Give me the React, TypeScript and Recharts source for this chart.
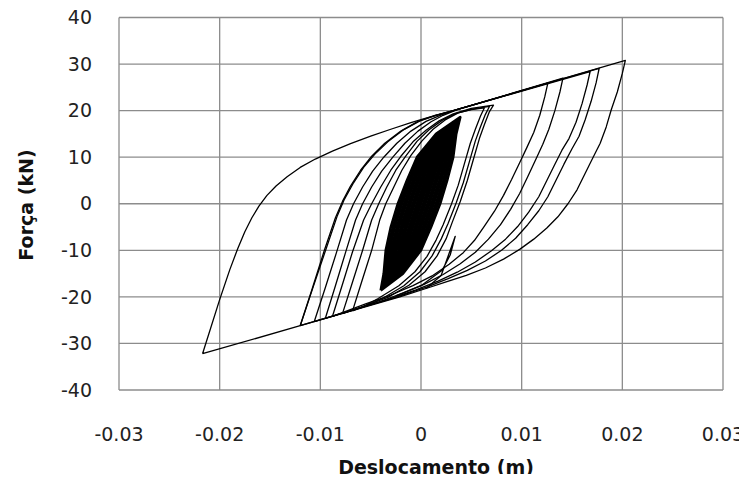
import React from "react";
import { LineChart, Line, XAxis, YAxis, CartesianGrid } from "recharts";

type Pt = [number, number];

const xTicks = [-0.03, -0.02, -0.01, 0, 0.01, 0.02, 0.03];
const yTicks = [-40, -30, -20, -10, 0, 10, 20, 30, 40];

// Largest cycle (peak +0.0203 m / 30.8 kN, valley -0.0217 m / -32.2 kN)
const cycle1: Pt[] = [
  [-0.0217, -32.2], [-0.02, -20.6], [-0.019, -14.2], [-0.0182, -9.6], [-0.0175, -6.0],
  [-0.0168, -3.0], [-0.0161, -0.5], [-0.0153, 1.8], [-0.0144, 3.8], [-0.0133, 5.8],
  [-0.012, 7.8], [-0.0105, 9.6], [-0.0088, 11.3], [-0.007, 12.9], [-0.005, 14.5],
  [-0.003, 16.0], [-0.001, 17.4], [0.001, 18.7], [0.0029, 19.8], [0.0203, 30.8],
  [0.02, 28.0], [0.0195, 24.0], [0.0189, 20.2], [0.0184, 16.5], [0.0178, 13.0],
  [0.0171, 10.0], [0.0163, 6.5], [0.0155, 3.0], [0.0146, 0.0], [0.0136, -2.8],
  [0.0125, -5.2], [0.0112, -7.6], [0.0098, -9.8], [0.0082, -11.9], [0.0064, -13.8],
  [0.0045, -15.4], [0.0025, -16.8], [0.0005, -18.2], [-0.0021, -20.0], [-0.012, -26.2],
  [-0.0217, -32.2],
];

const cycle2: Pt[] = [
  [-0.012, -26.2], [-0.0108, -18.2], [-0.0096, -10.0], [-0.0085, -3.0], [-0.0078, 0.5],
  [-0.007, 3.8], [-0.006, 7.2], [-0.0049, 10.2], [-0.0036, 13.0], [-0.002, 15.6],
  [-0.0003, 17.7], [0.0013, 18.9], [0.003, 19.9], [0.0177, 29.1], [0.0174, 26.0],
  [0.0169, 22.0], [0.0163, 18.0], [0.0157, 14.5], [0.015, 11.8], [0.0142, 8.5],
  [0.0134, 5.0], [0.0126, 1.5], [0.0117, -1.5], [0.0106, -4.5], [0.0094, -7.4],
  [0.008, -10.0], [0.0064, -12.3], [0.0046, -14.3], [0.0027, -16.1], [0.0007, -17.8],
  [-0.0025, -20.1], [-0.012, -26.2],
];

const cycle3: Pt[] = [
  [-0.012, -26.2], [-0.0107, -17.8], [-0.0094, -9.5], [-0.0083, -2.5], [-0.0076, 1.0],
  [-0.0067, 4.5], [-0.0057, 7.8], [-0.0046, 10.6], [-0.0033, 13.3], [-0.0018, 15.8],
  [-0.0001, 17.8], [0.0015, 19.0], [0.0032, 20.0], [0.0168, 28.4], [0.0165, 25.5],
  [0.016, 21.5], [0.0154, 17.5], [0.0147, 14.0], [0.014, 11.5], [0.0133, 8.5],
  [0.0125, 5.0], [0.0117, 1.5], [0.0107, -1.8], [0.0096, -4.9], [0.0084, -7.6],
  [0.007, -10.1], [0.0054, -12.5], [0.0036, -14.7], [0.0017, -16.6], [-0.0005, -18.5],
  [-0.0035, -20.7], [-0.0106, -25.3],
];

const cycle4: Pt[] = [
  [-0.0106, -25.3], [-0.0095, -18.0], [-0.0084, -10.5], [-0.0074, -3.5], [-0.0067, 0.0],
  [-0.0058, 3.6], [-0.0048, 7.0], [-0.0037, 10.0], [-0.0024, 13.0], [-0.001, 15.6],
  [0.0005, 17.7], [0.0019, 19.0], [0.0034, 20.1], [0.0141, 27.0], [0.0138, 24.0],
  [0.0133, 20.0], [0.0127, 16.0], [0.0121, 12.8], [0.0114, 9.5], [0.0106, 5.8],
  [0.0098, 2.2], [0.0089, -1.2], [0.0079, -4.5], [0.0067, -7.6], [0.0054, -10.4],
  [0.0039, -12.9], [0.0022, -15.2], [0.0003, -17.3], [-0.0018, -19.2], [-0.0042, -21.1],
  [-0.0095, -24.6],
];

const cycle5: Pt[] = [
  [-0.0095, -24.6], [-0.0085, -17.6], [-0.0075, -10.5], [-0.0065, -3.5], [-0.0058, 0.0],
  [-0.0049, 3.6], [-0.0039, 7.0], [-0.0028, 10.0], [-0.0016, 13.0], [-0.0003, 15.6],
  [0.001, 17.6], [0.0022, 19.0], [0.0036, 20.2], [0.0126, 25.9], [0.0123, 23.0],
  [0.0118, 19.0], [0.0112, 15.3], [0.0105, 12.0], [0.0098, 8.8], [0.009, 5.2],
  [0.0082, 1.8], [0.0073, -1.6], [0.0063, -4.8], [0.0053, -7.9], [0.0042, -10.5],
  [0.0028, -13.0], [0.0011, -15.5], [-0.0008, -17.6], [-0.003, -19.6], [-0.0055, -21.5],
  [-0.0088, -24.2],
];

const cycle6: Pt[] = [
  [-0.0088, -24.2], [-0.0078, -17.3], [-0.0068, -10.3], [-0.0057, -3.5], [-0.0049, 0.0],
  [-0.004, 3.6], [-0.003, 7.2], [-0.002, 10.2], [-0.0008, 13.3], [0.0005, 15.8],
  [0.0018, 17.8], [0.0032, 19.3], [0.005, 20.5], [0.0072, 21.2], [0.0068, 19.8],
  [0.0063, 17.0], [0.0058, 14.0], [0.0052, 9.5], [0.0046, 5.0], [0.0039, 0.5],
  [0.0031, -4.0], [0.0025, -7.5], [0.0016, -11.2], [0.0004, -14.6], [-0.0012, -17.5],
  [-0.0033, -20.1], [-0.0055, -21.9], [-0.0078, -23.6],
];

const cycle7: Pt[] = [
  [-0.0078, -23.6], [-0.0068, -16.8], [-0.0058, -10.0], [-0.0049, -3.5], [-0.0042, 0.0],
  [-0.0034, 3.6], [-0.0025, 7.2], [-0.0015, 10.3], [-0.0004, 13.4], [0.0008, 15.9],
  [0.0021, 17.9], [0.0035, 19.4], [0.0051, 20.3], [0.0068, 20.9], [0.0064, 19.2],
  [0.0059, 16.5], [0.0054, 13.5], [0.0048, 9.0], [0.0042, 4.5], [0.0035, 0.2],
  [0.0027, -4.2], [0.002, -7.6], [0.0011, -11.2], [-0.0001, -14.6], [-0.0017, -17.6],
  [-0.0038, -20.3], [-0.0055, -21.9], [-0.0068, -23.0],
];

const cycle8: Pt[] = [
  [-0.0068, -23.0], [-0.0059, -16.8], [-0.0049, -10.0], [-0.0041, -3.5], [-0.0035, 0.0],
  [-0.0027, 3.6], [-0.0019, 7.2], [-0.001, 10.4], [0.0001, 13.5], [0.0012, 16.0],
  [0.0024, 18.0], [0.0037, 19.5], [0.005, 20.2], [0.0063, 20.6], [0.0059, 18.8],
  [0.0054, 16.0], [0.0049, 13.0], [0.0043, 8.5], [0.0037, 4.0], [0.003, -0.2],
  [0.0022, -4.5], [0.0015, -7.8], [0.0006, -11.3], [-0.0006, -14.6], [-0.0022, -17.6],
  [-0.0043, -20.4], [-0.006, -22.4],
];

const spike: Pt[] = [
  [0.0005, -18.2], [0.002, -15.4], [0.0034, -7.0], [0.0029, -11.0], [0.0021, -14.3],
  [0.0, -17.6], [-0.0025, -19.8],
];

// Dense small cycles around the origin
const core1: Pt[] = [
  [-0.004, -18.6], [-0.0037, -15], [-0.0035, -10], [-0.003, -5], [-0.0023, 0], [-0.0014, 5],
  [-0.0004, 10], [0.0015, 15], [0.0039, 18.6], [0.0035, 15], [0.0032, 10], [0.0026, 5],
  [0.0019, 0], [0.001, -5], [0.0, -10], [-0.0018, -15], [-0.004, -18.6],
];
const core2: Pt[] = [
  [-0.0039, -18.2], [-0.00361, -15], [-0.00333, -10], [-0.0028, -5], [-0.00209, 0], [-0.0012, 5],
  [-0.00022, 10], [0.0016, 15], [0.0038, 18.2], [0.0034, 15], [0.00302, 10], [0.0024, 5],
  [0.00169, 0], [0.0008, -5], [-0.00018, -10], [-0.00189, -15], [-0.0039, -18.2],
];
const core3: Pt[] = [
  [-0.0038, -17.8], [-0.00356, -15], [-0.00324, -10], [-0.0027, -5], [-0.00199, 0], [-0.0011, 5],
  [-0.00013, 10], [0.00165, 15], [0.0037, 17.8], [0.00335, 15], [0.00293, 10], [0.0023, 5],
  [0.00159, 0], [0.0007, -5], [-0.00026, -10], [-0.00194, -15], [-0.0038, -17.8],
];
const core4: Pt[] = [
  [-0.0038, -17.8], [-0.00351, -15], [-0.00315, -10], [-0.0026, -5], [-0.00188, 0], [-0.001, 5],
  [-0.00004, 10], [0.0017, 15], [0.0037, 17.8], [0.0033, 15], [0.00284, 10], [0.0022, 5],
  [0.00148, 0], [0.0006, -5], [-0.00035, -10], [-0.00199, -15], [-0.0038, -17.8],
];
const core5: Pt[] = [
  [-0.0038, -17.8], [-0.00342, -15], [-0.00298, -10], [-0.0024, -5], [-0.00167, 0], [-0.0008, 5],
  [0.00014, 10], [0.0018, 15], [0.0037, 17.8], [0.0032, 15], [0.00266, 10], [0.002, 5],
  [0.00127, 0], [0.0004, -5], [-0.00053, -10], [-0.00209, -15], [-0.0038, -17.8],
];
const core6: Pt[] = [
  [-0.0038, -17.8], [-0.00337, -15], [-0.00289, -10], [-0.0023, -5], [-0.00157, 0], [-0.0007, 5],
  [0.00023, 10], [0.00185, 15], [0.0037, 17.8], [0.00315, 15], [0.00257, 10], [0.0019, 5],
  [0.00117, 0], [0.0003, -5], [-0.00061, -10], [-0.00213, -15], [-0.0038, -17.8],
];
const core7: Pt[] = [
  [-0.0038, -17.8], [-0.00332, -15], [-0.0028, -10], [-0.0022, -5], [-0.00146, 0], [-0.0006, 5],
  [0.00032, 10], [0.0019, 15], [0.0037, 17.8], [0.0031, 15], [0.00248, 10], [0.0018, 5],
  [0.00106, 0], [0.0002, -5], [-0.0007, -10], [-0.00218, -15], [-0.0038, -17.8],
];
const core8: Pt[] = [
  [-0.0038, -17.8], [-0.00323, -15], [-0.00263, -10], [-0.002, -5], [-0.00125, 0], [-0.0004, 5],
  [0.0005, 10], [0.002, 15], [0.0037, 17.8], [0.003, 15], [0.0023, 10], [0.0016, 5],
  [0.00085, 0], [0.0, -5], [-0.00088, -10], [-0.00228, -15], [-0.0038, -17.8],
];
const core9: Pt[] = [
  [-0.0038, -17.8], [-0.00318, -15], [-0.00254, -10], [-0.0019, -5], [-0.00115, 0], [-0.0003, 5],
  [0.00059, 10], [0.00205, 15], [0.0037, 17.8], [0.00295, 15], [0.00221, 10], [0.0015, 5],
  [0.00075, 0], [-0.0001, -5], [-0.00096, -10], [-0.00232, -15], [-0.0038, -17.8],
];
const core10: Pt[] = [
  [-0.0038, -17.8], [-0.00313, -15], [-0.00245, -10], [-0.0018, -5], [-0.00104, 0], [-0.0002, 5],
  [0.00068, 10], [0.0021, 15], [0.0037, 17.8], [0.0029, 15], [0.00212, 10], [0.0014, 5],
  [0.00064, 0], [-0.0002, -5], [-0.00105, -10], [-0.00237, -15], [-0.0038, -17.8],
];
const core11: Pt[] = [
  [-0.0038, -17.8], [-0.00304, -15], [-0.00228, -10], [-0.0016, -5], [-0.00083, 0], [0.0, 5],
  [0.00086, 10], [0.0022, 15], [0.0037, 17.8], [0.0028, 15], [0.00194, 10], [0.0012, 5],
  [0.00043, 0], [-0.0004, -5], [-0.00123, -10], [-0.00247, -15], [-0.0038, -17.8],
];
const core12: Pt[] = [
  [-0.0038, -17.8], [-0.00299, -15], [-0.00219, -10], [-0.0015, -5], [-0.00073, 0], [0.0001, 5],
  [0.00095, 10], [0.00225, 15], [0.0037, 17.8], [0.00275, 15], [0.00185, 10], [0.0011, 5],
  [0.00033, 0], [-0.0005, -5], [-0.00131, -10], [-0.00251, -15], [-0.0038, -17.8],
];
const core13: Pt[] = [
  [-0.0037, -17.4], [-0.00294, -15], [-0.0021, -10], [-0.0014, -5], [-0.00062, 0], [0.0002, 5],
  [0.00104, 10], [0.0023, 15], [0.0036, 17.4], [0.0027, 15], [0.00176, 10], [0.001, 5],
  [0.00022, 0], [-0.0006, -5], [-0.0014, -10], [-0.00256, -15], [-0.0037, -17.4],
];
const core14: Pt[] = [
  [-0.0036, -17.0], [-0.00285, -15], [-0.00193, -10], [-0.0012, -5], [-0.00041, 0], [0.0004, 5],
  [0.00122, 10], [0.0024, 15], [0.0035, 17.0], [0.0026, 15], [0.00158, 10], [0.0008, 5],
  [0.00001, 0], [-0.0008, -5], [-0.00158, -10], [-0.00266, -15], [-0.0036, -17.0],
];
const core15: Pt[] = [
  [-0.0036, -17.2], [-0.0028, -15], [-0.00184, -10], [-0.0011, -5], [-0.0003, 0], [0.0005, 5],
  [0.00131, 10], [0.00245, 15], [0.0036, 17.2], [0.00255, 15], [0.00149, 10], [0.0007, 5],
  [-0.0001, 0], [-0.0009, -5], [-0.00166, -10], [-0.0027, -15], [-0.0036, -17.2],
];

const outerPaths: Pt[][] = [cycle1, cycle2, cycle3, cycle4, cycle5, cycle6, cycle7, cycle8, spike];
const corePaths: Pt[][] = [
  core1, core2, core3, core4, core5, core6, core7, core8, core9, core10,
  core11, core12, core13, core14, core15,
];

const toRows = (p: Pt[]) => p.map(([x, y]) => ({ x, y }));

const FONT = "'DejaVu Sans', Verdana, sans-serif";
const W = 747;
const H = 482;

export default function App() {
  return (
    <div style={{ position: "relative", width: W, height: H, margin: -8 }}>
      <LineChart width={W} height={H} margin={{ top: 17.5, right: 24, bottom: 0, left: 0 }}>
        <CartesianGrid stroke="#8c8c8c" strokeWidth={1.3} />
        <XAxis
          dataKey="x"
          type="number"
          domain={[-0.03, 0.03]}
          ticks={xTicks}
          allowDataOverflow
          height={92}
          tickSize={0}
          tickMargin={38}
          axisLine={false}
          tickLine={false}
          interval={0}
          tick={{ fontFamily: FONT, fontSize: 19, fill: "#222" }}
          tickFormatter={(v: number) => String(v)}
        />
        <YAxis
          type="number"
          domain={[-40, 40]}
          ticks={yTicks}
          allowDataOverflow
          width={119}
          tickSize={0}
          tickMargin={27}
          axisLine={false}
          tickLine={false}
          interval={0}
          tick={{ fontFamily: FONT, fontSize: 19, fill: "#222" }}
        />
        {outerPaths.map((p, i) => (
          <Line
            key={`o${i}`}
            data={toRows(p)}
            dataKey="y"
            type="linear"
            stroke="#000"
            strokeWidth={1.3}
            strokeLinejoin="round"
            dot={false}
            activeDot={false}
            isAnimationActive={false}
          />
        ))}
        {corePaths.map((p, i) => (
          <Line
            key={`c${i}`}
            data={toRows(p)}
            dataKey="y"
            type="linear"
            stroke="#000"
            strokeWidth={2.6}
            strokeLinejoin="round"
            dot={false}
            activeDot={false}
            isAnimationActive={false}
          />
        ))}
      </LineChart>
      <svg
        width={W}
        height={H}
        style={{ position: "absolute", left: 0, top: 0, pointerEvents: "none" }}
      >
        <text x={436} y={474} textAnchor="middle" fontFamily={FONT} fontWeight="bold" fontSize={19} fill="#111">
          Deslocamento (m)
        </text>
        <text
          transform="translate(33,205) rotate(-90)"
          textAnchor="middle"
          fontFamily={FONT}
          fontWeight="bold"
          fontSize={19}
          fill="#111"
        >
          Força (kN)
        </text>
      </svg>
    </div>
  );
}
